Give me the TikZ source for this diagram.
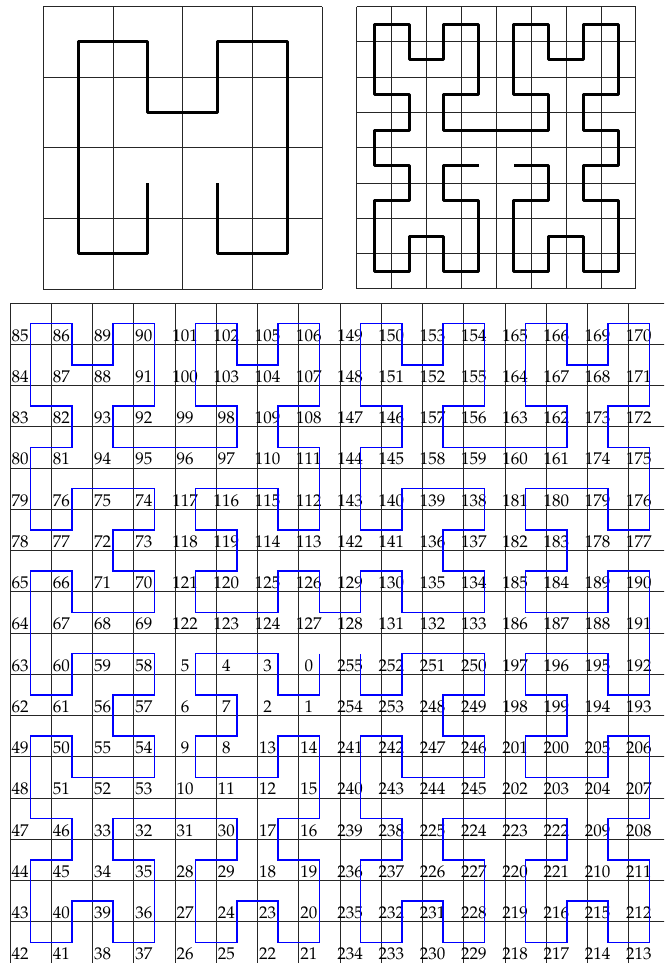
\documentclass[tikz,border=0pt]{standalone}
\usepackage[T1]{fontenc}
\usepackage{mathpazo}
\usepackage{tikz}
\usetikzlibrary{calc}

\begin{document}
\begin{tikzpicture}[
    x=0.5pt, y=-0.5pt,
    gridline/.style={draw=black!85, line width=0.5pt},
    hilbline/.style={draw=black, line width=1.5pt, line join=round},
    moorepath/.style={draw=blue, line width=0.65pt},
    cellnum/.style={anchor=base, inner sep=0pt, font=\fontsize{8.5}{10}\selectfont}
]
\clip (0,0) rectangle (664,963);
\fill[white] (0,0) rectangle (664,963);

\begin{scope}[shift={(43.3,6.7)}, x=34.875pt, y=-35.29pt]
  \foreach \i in {0,...,4} {
    \draw[gridline] (\i,0) -- (\i,4);
    \draw[gridline] (0,\i) -- (4,\i);
  }
  \draw[hilbline] (1.5,2.5) -- (1.5,3.5) -- (0.5,3.5) -- (0.5,0.5) -- (1.5,0.5) -- (1.5,1.5)
    -- (2.5,1.5) -- (2.5,0.5) -- (3.5,0.5) -- (3.5,3.5) -- (2.5,3.5) -- (2.5,2.5);
\end{scope}

\begin{scope}[shift={(356.7,6.7)}, x=17.45pt, y=-17.64pt]
  \foreach \i in {0,...,8} {
    \draw[gridline] (\i,0) -- (\i,8);
    \draw[gridline] (0,\i) -- (8,\i);
  }
  \draw[hilbline, shift={(0.5,0.5)}] (3,4) -- (2,4) -- (2,5) -- (3,5) -- (3,7) -- (2,7) -- (2,6)
    -- (1,6) -- (1,7) -- (0,7) -- (0,5) -- (1,5) -- (1,4) -- (0,4) -- (0,3) -- (1,3) -- (1,2)
    -- (0,2) -- (0,0) -- (1,0) -- (1,1) -- (2,1) -- (2,0) -- (3,0) -- (3,2) -- (2,2) -- (2,3)
    -- (5,3) -- (5,2) -- (4,2) -- (4,0) -- (5,0) -- (5,1) -- (6,1) -- (6,0) -- (7,0) -- (7,2)
    -- (6,2) -- (6,3) -- (7,3) -- (7,4) -- (6,4) -- (6,5) -- (7,5) -- (7,7) -- (6,7) -- (6,6)
    -- (5,6) -- (5,7) -- (4,7) -- (4,5) -- (5,5) -- (5,4) -- (4,4);
\end{scope}

\foreach \i in {0,...,16} {
  \draw[gridline] ({10+41.25*\i},303) -- ++(0,660);
  \draw[gridline] (10,{303+41.25*\i}) -- ++(660,0);
}

\foreach \row [count=\r from 0] in {
  {85,86,89,90,101,102,105,106,149,150,153,154,165,166,169,170},
  {84,87,88,91,100,103,104,107,148,151,152,155,164,167,168,171},
  {83,82,93,92,99,98,109,108,147,146,157,156,163,162,173,172},
  {80,81,94,95,96,97,110,111,144,145,158,159,160,161,174,175},
  {79,76,75,74,117,116,115,112,143,140,139,138,181,180,179,176},
  {78,77,72,73,118,119,114,113,142,141,136,137,182,183,178,177},
  {65,66,71,70,121,120,125,126,129,130,135,134,185,184,189,190},
  {64,67,68,69,122,123,124,127,128,131,132,133,186,187,188,191},
  {63,60,59,58,5,4,3,0,255,252,251,250,197,196,195,192},
  {62,61,56,57,6,7,2,1,254,253,248,249,198,199,194,193},
  {49,50,55,54,9,8,13,14,241,242,247,246,201,200,205,206},
  {48,51,52,53,10,11,12,15,240,243,244,245,202,203,204,207},
  {47,46,33,32,31,30,17,16,239,238,225,224,223,222,209,208},
  {44,45,34,35,28,29,18,19,236,237,226,227,220,221,210,211},
  {43,40,39,36,27,24,23,20,235,232,231,228,219,216,215,212},
  {42,41,38,37,26,25,22,21,234,233,230,229,218,217,214,213}} {
  \foreach \n [count=\c from 0] in \row {
    \coordinate (mid\n) at ({30.625+41.25*\c}, {323.625+41.25*\r});
    \node[cellnum] (num\n) at ({20+41.25*\c}, {341+41.25*\r}) {\n};
  }
}

\draw[moorepath] (mid0) \foreach \i in {1,...,255} { -- (mid\i) };
\end{tikzpicture}
\end{document}
